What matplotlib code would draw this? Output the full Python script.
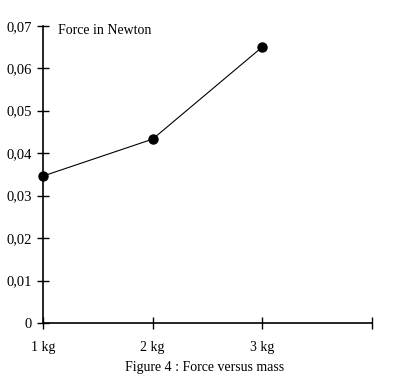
import matplotlib
matplotlib.use('Agg')
import matplotlib.pyplot as plt

# data
masses = [1, 2, 3]
forces = [0.0346, 0.0433, 0.065]
xtick_pos = [1, 2, 3, 4]
xtick_labels = ['1 kg', '2 kg', '3 kg', '']
ytick_pos = [0, 0.01, 0.02, 0.03, 0.04, 0.05, 0.06, 0.07]
ytick_labels = ['0', '0,01', '0,02', '0,03', '0,04', '0,05', '0,06', '0,07']

plt.rcParams['font.family'] = ['Liberation Serif', 'DejaVu Serif']

W, H = 401, 384
fig = plt.figure(figsize=(W / 100, H / 100), dpi=100)
ax = fig.add_axes([43 / W, (H - 323) / H, (372 - 43) / W, (323 - 25.7) / H])

ax.plot(masses, forces, color='black', lw=0.8, marker='o', ms=6.5,
        markerfacecolor='black', markeredgecolor='black', clip_on=False)

ax.set_xlim(1, 4)
ax.set_ylim(0, 0.07)
ax.set_xticks(xtick_pos)
ax.set_xticklabels(xtick_labels, fontsize=10)
ax.set_yticks(ytick_pos)
ax.set_yticklabels(ytick_labels, fontsize=10.5)
ax.tick_params(direction='inout', length=8, width=1, color='black', pad=4)
ax.tick_params(axis='x', pad=9)

for s in ['top', 'right']:
    ax.spines[s].set_visible(False)
for s in ['left', 'bottom']:
    ax.spines[s].set_linewidth(1.2)

ax.text(58 / W, (H - 31) / H, 'Force in Newton', transform=fig.transFigure,
        fontsize=10, ha='left', va='center')
fig.text(205 / W, (H - 367) / H, 'Figure 4 : Force versus mass',
         fontsize=10, ha='center', va='center')

fig.savefig('out.png', dpi=100)
